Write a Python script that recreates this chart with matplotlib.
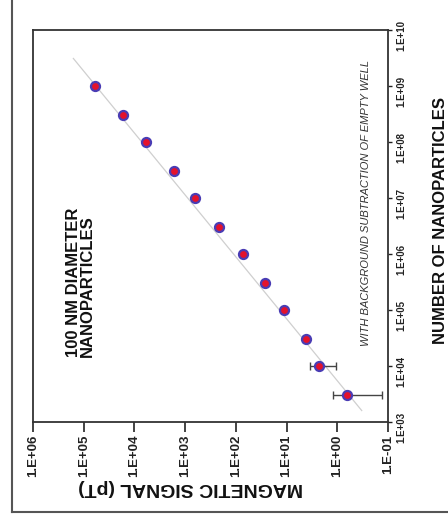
import numpy as np
import matplotlib
matplotlib.use("Agg")
import matplotlib.pyplot as plt
from matplotlib.lines import Line2D
from matplotlib.transforms import ScaledTranslation

plt.rcParams['font.family'] = ['Liberation Sans', 'DejaVu Sans']

# data: number of nanoparticles vs. magnetic signal (pT)
particles = [3e3, 1e4, 3e4, 1e5, 3e5, 1e6, 3e6, 1e7, 3e7, 1e8, 3e8, 1e9]
signal = [0.64, 2.3, 4.2, 11.4, 27, 74, 218, 646, 1660, 6030, 16600, 58900]
err_low = [0.51, 1.23, 0.6, 0, 2.5, 0, 0, 90, 0, 0, 0, 0]
err_high = [0.59, 1.19, 0.6, 0, 2.5, 0, 0, 90, 0, 0, 0, 0]

# power-law fit line end points
fit_particles = [1.6e3, 3.1e9]
fit_signal = [0.33, 1.6e5]

signal_ticks = [1e6, 1e5, 1e4, 1e3, 1e2, 1e1, 1e0, 1e-1]
particle_ticks = [1e3, 1e4, 1e5, 1e6, 1e7, 1e8, 1e9, 1e10]


def sci_label(v):
    return "1.E%+03d" % int(round(np.log10(v)))


fig = plt.figure(figsize=(4.48, 5.29), dpi=100)
ax = fig.add_axes([0.0737, 0.2023, 0.7924, 0.741])

# the chart is drawn turned a quarter turn: signal runs along the bottom
ax.plot(fit_signal, fit_particles, color='#cfcfcf', lw=0.9, zorder=1)
ax.errorbar(signal, particles, xerr=[err_low, err_high], fmt='none',
            ecolor='#444444', elinewidth=1.0, capsize=3, capthick=1.0, zorder=2)
ax.plot(signal, particles, 'o', ms=6.5, mfc='#e4122c', mec='#4a3cb4',
        mew=1.6, zorder=3)

ax.set_xscale('log')
ax.set_yscale('log')
ax.set_xlim(1e6, 1e-1)
ax.set_ylim(1e3, 1e10)
ax.minorticks_off()

ax.set_xticks(signal_ticks)
ax.set_xticklabels([sci_label(v) for v in signal_ticks])
ax.set_yticks(particle_ticks)
ax.set_yticklabels([sci_label(v) for v in particle_ticks])
ax.yaxis.tick_right()
ax.yaxis.set_label_position('right')

ax.tick_params(axis='x', direction='out', length=7, width=1.2, pad=2,
               labelsize=9.5, labelrotation=90, colors='#222222')
ax.tick_params(axis='y', direction='out', length=3, width=1.0, pad=3,
               labelsize=7, labelrotation=90, colors='#222222')
for lab in ax.get_xticklabels() + ax.get_yticklabels():
    lab.set_fontweight('bold')
# right-hand labels sit a little above their ticks in the reference
shift = ScaledTranslation(0, 6 / 100, fig.dpi_scale_trans)
for lab in ax.get_yticklabels():
    lab.set_transform(lab.get_transform() + shift)

for sp in ax.spines.values():
    sp.set_color('#333333')
    sp.set_linewidth(1.3)

ax.set_xlabel('MAGNETIC SIGNAL (pT)', fontsize=14, fontweight='bold',
              rotation=180, color='#111111')
ax.xaxis.set_label_coords(0.445, -0.145)
ax.set_ylabel('NUMBER OF NANOPARTICLES', fontsize=12, fontweight='bold',
              rotation=90, color='#111111')
ax.yaxis.set_label_coords(1.127, 0.515)

ax.text(0.134, 0.166, '100 NM DIAMETER\nNANOPARTICLES', transform=ax.transAxes,
        rotation=90, ha='center', va='bottom', multialignment='left',
        fontsize=12, fontweight='bold', linespacing=0.95, color='#111111')
ax.text(0.938, 0.559, 'WITH BACKGROUND SUBTRACTION OF EMPTY WELL',
        transform=ax.transAxes, rotation=90, ha='center', va='center',
        fontsize=8, fontstyle='italic', color='#333333')

# outer frame (only left and bottom edges are inside the picture)
fx0 = 12 / 448
fy0 = 1 - 512 / 529
fig.add_artist(Line2D([fx0, fx0], [fy0, 1.0], transform=fig.transFigure,
                      color='#555555', lw=1.5))
fig.add_artist(Line2D([fx0, 1.0], [fy0, fy0], transform=fig.transFigure,
                      color='#555555', lw=1.5))

fig.savefig('out.png', dpi=100)
